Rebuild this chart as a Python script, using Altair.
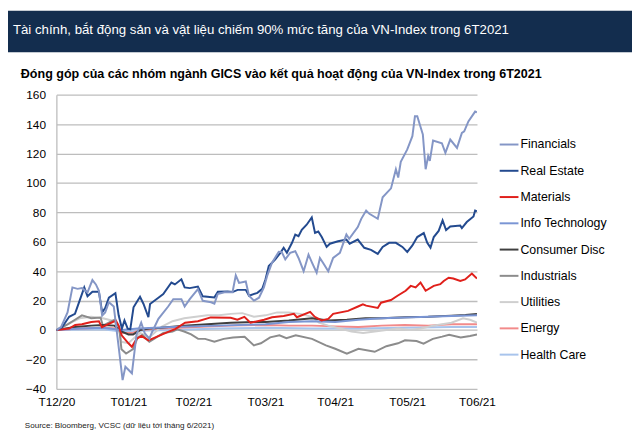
import altair as alt
import pandas as pd

title_text = "Tài chính, bắt động sản và vật liệu chiếm 90% mức tăng của VN-Index trong 6T2021"
subtitle_text = "Đóng góp của các nhóm ngành GICS vào kết quả hoạt động của VN-Index trong 6T2021"
source_text = "Source: Bloomberg, VCSC (dữ liệu tới tháng 6/2021)"

series_names = ["Financials", "Real Estate", "Materials", "Info Technology", "Consumer Disc",
                "Industrials", "Utilities", "Energy", "Health Care"]
series_colors = ["#8496c6", "#234a8f", "#e0201b", "#7a95d4", "#3f3f3f",
                 "#8c8c8c", "#cfcfcf", "#f28a8a", "#a8c4ec"]

tick_days = [0, 31, 59, 90, 120, 151, 181]
tick_labels = ["T12/20", "T01/21", "T02/21", "T03/21", "T04/21", "T05/21", "T06/21"]

# Days since 31/12/2020 and contribution (index points)
fin_days = [0, 2, 4.8, 6.9, 9.1, 11, 13.4, 15.5, 17, 18.3, 19.7, 21, 22.6, 24.7, 26.8, 28.5, 29.7, 32.5,
            34.5, 36.5, 38, 40, 41, 43.9, 48.1, 50.3, 53.8, 55.2, 57.4, 60.9, 63, 66.6, 68, 69.4, 72.3,
            75.8, 77.2, 78.6, 81.5, 82.9, 85, 87.2, 89.3, 90.7, 92.8, 95.7, 97, 98.5, 100.6, 102.8, 104.2,
            106.4, 108.5, 110, 112, 113.4, 115, 117, 119.1, 122, 124.8, 126, 129.7, 131.2, 133.3, 134.7,
            138.3, 140.4, 144, 146.1, 147.1, 148.2, 151, 153.2, 154.3, 155.3, 157.7, 158.9, 160, 160.7,
            162.1, 165.9, 167.4, 169.5, 172.4, 174.5, 175.5, 177.3, 180.2, 181]
fin_vals = [0, 2, 12, 29, 28, 28.5, 25.6, 34, 31, 26.7, 9.8, 12, 18.9, 16, -11.4, -34, -25, -29.4,
            -3, 5, -2, -6, -2, 7.6, 16, 21, 21, 16, 21, 27.8, 19.9, 18.9, 17.9, 24.4, 25.7,
            25.7, 37.2, 32, 33, 23.3, 20, 22, 29, 36.8, 45.8, 53.2, 53, 48, 52.5, 53.6, 49,
            40, 51.2, 45.8, 39, 49, 45, 40, 49, 52.5, 64.9, 62, 70, 75.6, 81.2, 79,
            75.6, 90.2, 96.3, 109.3, 103.7, 114.4, 122.8, 131.8, 145.3, 145.3, 133, 109.3, 118.2, 115,
            128.8, 127, 120.5, 129.5, 123.8, 134, 135, 141.8, 148.5, 148]

re_days = [0, 2.5, 5.5, 8, 10, 12, 13.4, 15.5, 18.3, 19.7, 21, 22.6, 25.4, 26.8, 28.2, 29.3, 30.7, 31.8,
           33.2, 34.6, 36, 37.5, 39.6, 40.3, 43.9, 46, 49.5, 51, 53.8, 55.2, 57.4, 60.9, 63, 68, 69.5,
           73.7, 75.8, 78, 81.5, 82.9, 86.5, 88.6, 90, 91.4, 94.2, 96.4, 97.8, 99.2, 101.4, 102.8, 104.2,
           105.6, 107.7, 109.9, 111.3, 112.7, 114.2, 116.3, 117.7, 121.2, 124.8, 126.2, 129.7, 132.5,
           135.4, 138.3, 140.4, 143.2, 146.1, 148.9, 151, 153.2, 155.3, 158.1, 159.6, 161, 162.4, 164.5,
           166.2, 167.7, 169.5, 173.8, 174.5, 176.6, 179.5, 180.2, 181]
re_vals = [0, 2, 9, 11, 20, 29, 23, 26, 26, 12, 15, 22, 25, 10, 1, 6.5, 1, 0.5,
           15.5, 19, 22.6, 17.7, 8.7, 17.7, 22, 24.4, 32.3, 31, 34.5, 29, 28.5, 29.6, 22.9, 22.2, 26,
           26.2, 25.8, 27.3, 27.3, 23.3, 25.3, 28, 34.5, 43.5, 48, 52.5, 55.9, 52.5, 59.3, 64.9, 63.8,
           68.2, 71.6, 76.5, 66, 67, 63.2, 56.5, 58.7, 60.4, 61.5, 58.7, 61.5, 55.9,
           54.5, 51.8, 56.5, 59.3, 59.3, 56.5, 53.1, 57.5, 63.2, 65.9, 59.3, 56, 63.2, 67.4,
           74.5, 68, 70.4, 71, 69.3, 73.4, 77.2, 81.2, 80.8]

mat_days = [0, 5.5, 8.1, 11, 15, 18.3, 19.6, 25.6, 26.8, 28.1, 31, 32.5, 34.5, 36.6, 39.6, 48.1, 51.1,
            55.4, 60.9, 66.4, 75, 77.9, 80.9, 83.5, 89.4, 92.8, 97.8, 102.2, 103.5, 109.2, 111.2, 114.1,
            117, 119.1, 125.5, 129.8, 131.9, 133.3, 138.3, 139.7, 144, 146.8, 150.3, 152.5, 154.6, 156.7,
            158.9, 162.4, 165.2, 166.7, 168.8, 170.8, 173.8, 175.9, 178.8, 181]
mat_vals = [0, 1, 3.5, 4, 5.5, 6, 2, 6.5, 3, -3.6, -9, -11.4, -6, -4, -7, -1.3, 0.6,
            5, 6, 8.6, 8.3, 7, 9, 5, 7, 8.7, 9.6, 11, 8.7, 12.4, 9, 6.5,
            7.6, 11, 13, 16, 17.5, 16.6, 15, 18.6, 20.4, 23.3, 26.7, 30, 29, 32.3,
            26.7, 30, 31.2, 33.4, 35.6, 35, 33.4, 34.4, 38.4, 35]

it_days = [0, 10, 20, 28, 35, 50, 70, 90, 100, 110, 120, 130, 140, 150, 160, 170, 181]
it_vals = [0, 1, 1.5, 0, 1, 2, 3, 4, 5.5, 6, 5.5, 7, 8, 8.5, 9, 9.5, 10]

cd_days = [0, 8, 15, 20, 25, 28, 31, 33, 36, 40, 45, 55, 65, 75, 85, 90, 100, 110, 117, 125, 133,
           140, 150, 160, 170, 176, 181]
cd_vals = [0, 2, 3, 3.5, 3, -1, -3, -3, 0, 1, 1.5, 3, 4, 5, 5.5, 5.5, 6.5, 8, 6.5, 7, 8,
           8, 8.7, 9, 9.8, 10.3, 11]

ind_days = [0, 5, 8, 11, 15, 19, 20, 25, 27, 28, 30, 33, 35, 37, 40, 42, 46, 50, 52, 55, 58, 61, 64,
            68, 72, 76, 81, 85, 88, 92, 96, 99, 103, 110, 116, 120, 125, 130, 137, 142, 147, 150, 155,
            158, 162, 166, 169, 174, 178, 181]
ind_vals = [0, 4, 7, 10, 8, 8.5, 3, 7, 2, -13, -16, -13, -5, -3.4, -8, -6, -2, -1, 0.5, -1, -3, -6, -6,
            -8, -6, -5, -4.5, -10.4, -9, -5, -3.6, -5.5, -3.6, -6, -10.4, -12.7, -16, -12.7, -14.8, -11, -9, -7, -7.5,
            -9.3, -6, -4.5, -3.2, -5, -4, -3]

ut_days = [0, 5, 10, 15, 20, 25, 27, 28, 31, 33, 36, 40, 45, 50, 55, 60, 65, 70, 75, 80, 85, 90, 95,
           100, 105, 110, 113, 117, 122, 127, 132, 137, 142, 147, 152, 157, 162, 166, 170, 175, 178, 181]
ut_vals = [0, 4, 8, 9, 8, 6, 0, -8, -9, -6, -2, -5, 2, 6, 8, 9, 10, 10, 11, 11.5, 9, 10, 12,
           12, 11, 9, 5, 3, 1, -1, -2, -1, 0, 1, 0, 1, 3, 4, 5, 8, 7, 5]

en_days = [0, 10, 20, 26, 28, 33, 36, 45, 60, 75, 90, 100, 110, 120, 130, 140, 150, 160, 170, 181]
en_vals = [0, 1, 1.5, 1, -2, -2, 0, 1, 2, 3, 3.5, 3, 3, 2.5, 2, 3, 3.5, 3, 4, 4]

hc_days = [0, 20, 28, 35, 50, 70, 90, 110, 130, 150, 170, 181]
hc_vals = [0, 0.5, -1, -0.5, 0, 1, 1.5, 1, 1, 1.5, 2, 2]

# draw order: minor series first so the big ones sit on top
draw_order = [
    ("Health Care", hc_days, hc_vals),
    ("Energy", en_days, en_vals),
    ("Utilities", ut_days, ut_vals),
    ("Industrials", ind_days, ind_vals),
    ("Consumer Disc", cd_days, cd_vals),
    ("Info Technology", it_days, it_vals),
    ("Materials", mat_days, mat_vals),
    ("Real Estate", re_days, re_vals),
    ("Financials", fin_days, fin_vals),
]
rows = []
for k, (name, days, vals) in enumerate(draw_order):
    for d, v in zip(days, vals):
        rows.append({"series": name, "day": d, "value": v, "z": k})
df = pd.DataFrame(rows)

label_expr = " : ".join(
    f"datum.value == {d} ? '{l}'" for d, l in zip(tick_days, tick_labels)
) + " : ''"

FONT = "Liberation Sans"

lines = alt.Chart(df).mark_line(strokeWidth=2, clip=True).encode(
    x=alt.X("day:Q", scale=alt.Scale(domain=[0, 181], nice=False, zero=False),
            axis=alt.Axis(values=tick_days, labelExpr=label_expr, grid=False, domain=False,
                          ticks=False, labelPadding=8, labelFontSize=12, labelFont=FONT,
                          labelColor="#000000", title=None, labelFlush=False)),
    y=alt.Y("value:Q", scale=alt.Scale(domain=[-40, 160], nice=False),
            axis=alt.Axis(values=list(range(-40, 161, 20)), title=None, grid=True,
                          gridColor="#bdbdbd", gridWidth=1.3, domainColor="#bdbdbd",
                          domainWidth=1.3, ticks=False, labelFontSize=12, labelFont=FONT,
                          labelColor="#000000", labelPadding=11)),
    color=alt.Color("series:N", scale=alt.Scale(domain=series_names, range=series_colors),
                    legend=alt.Legend(orient="none", legendX=448, legendY=40, title=None,
                                      symbolType="stroke", symbolSize=361, symbolStrokeWidth=2,
                                      labelFontSize=12.5, labelFont=FONT, labelColor="#000000",
                                      labelOffset=1, rowPadding=9.6, padding=0)),
    detail="z:Q",
    order="day:Q",
)

header = alt.Chart(pd.DataFrame({"a": [0]})).mark_rect(color="#132d4e").encode(
    x=alt.value(-49), x2=alt.value(583), y=alt.value(-85), y2=alt.value(-43))

title = alt.Chart(pd.DataFrame({"t": [title_text]})).mark_text(
    align="left", baseline="middle", color="white", fontSize=13.4, font=FONT
).encode(x=alt.value(-44), y=alt.value(-65), text="t:N")

subtitle = alt.Chart(pd.DataFrame({"t": [subtitle_text]})).mark_text(
    align="left", baseline="middle", color="#000000", fontSize=12.7, fontWeight="bold", font=FONT
).encode(x=alt.value(-36), y=alt.value(-21), text="t:N")

source = alt.Chart(pd.DataFrame({"t": [source_text]})).mark_text(
    align="left", baseline="middle", color="#222222", fontSize=8.2, font=FONT
).encode(x=alt.value(-32), y=alt.value(336), text="t:N")

chart = alt.layer(header, lines, title, subtitle, source).properties(
    width=426, height=298,
    padding={"left": 49, "top": 85, "right": 157, "bottom": 50},
    autosize=alt.AutoSizeParams(type="none"),
    background="white",
).configure_view(stroke=None)

chart.save("out.html", embed_options={"renderer": "svg", "actions": False})
